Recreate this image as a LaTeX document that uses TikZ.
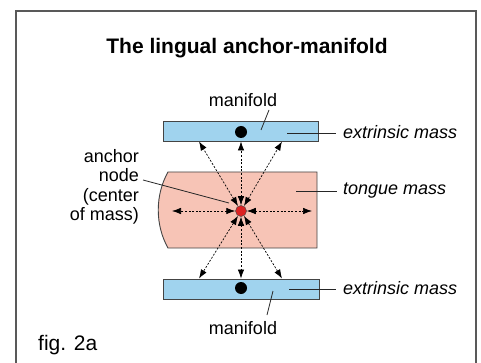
\documentclass[tikz,border=0pt]{standalone}
\usepackage{fontspec}
\setmainfont{Liberation Sans}
\usetikzlibrary{arrows.meta}
\definecolor{barblue}{HTML}{A0D3EE}
\definecolor{tongue}{HTML}{F7C4B6}
\definecolor{anchorred}{HTML}{DC2222}
\definecolor{edge}{HTML}{444444}
\tikzset{
  bar/.style={draw=edge, line width=0.9pt, fill=barblue, inner sep=0pt, minimum height=20pt},
  massdot/.style={circle, fill=black, inner sep=0pt, minimum size=12pt},
  reddot/.style={circle, fill=anchorred, draw=black!70, line width=0.5pt, inner sep=0pt, minimum size=11pt},
  force/.style={dash pattern=on 2pt off 1.6pt, line width=0.7pt, {Latex[length=9pt,width=6.5pt]}-{Latex[length=9pt,width=6.5pt]}},
  leader/.style={line width=0.8pt, draw=black!85},
  lbl/.style={inner sep=0pt, font=\fontsize{18}{19.5}\selectfont},
  ilbl/.style={inner sep=0pt, font=\fontsize{18}{19.5}\selectfont\itshape, anchor=west},
}
\begin{document}
\begin{tikzpicture}[x=1pt,y=-1pt]
\useasboundingbox (0,0) rectangle (481,363);
% frame
\draw[draw=black!65, line width=1.2pt] (16,380) -- (16,11) -- (476,11) -- (476,380);
% title
\node[inner sep=0pt, font=\fontsize{21}{24}\selectfont\bfseries] (title) at (247,48) {The lingual anchor-manifold};
% tongue mass
\draw[draw=edge, line width=0.9pt, fill=tongue] (168,172) -- (317,172) -- (317,248) -- (168,248) .. controls (155,225) and (155,195) .. (168,172) -- cycle;
% bars
\node[bar, minimum width=155pt] (topbar) at (240.5,131) {};
\node[bar, minimum width=156pt] (botbar) at (241,289) {};
\node[massdot] (mtop) at (241,132) {};
\node[massdot] (mbot) at (241,288) {};
\node[reddot] (anchor) at (241,211) {};
% arrow ends
\coordinate (t1) at (199,141.5);
\coordinate (t2) at (241,141.5);
\coordinate (t3) at (282,141.5);
\coordinate (b1) at (199,278.5);
\coordinate (b2) at (241,278.5);
\coordinate (b3) at (282,278.5);
\coordinate (hl) at (172,211);
\coordinate (hr) at (312,211);
\foreach \e in {t1,t2,t3,b1,b2,b3,hl,hr}{
  \draw[force] (anchor) -- (\e);
}
% labels
\node[lbl] (mantop) at (243,100) {manifold};
\node[lbl] (manbot) at (243,328) {manifold};
\node[ilbl] (exttop) at (343,132) {extrinsic mass};
\node[ilbl] (extbot) at (343,288) {extrinsic mass};
\node[ilbl] (tonguelbl) at (343,191) {tongue mass};
\node[lbl, align=right, anchor=east] (anchorlbl) at (139,187) {anchor\\node\\(center\\of mass)};
\node[inner sep=0pt, anchor=west, font=\fontsize{21}{24}\selectfont] (fig) at (38,345) {fig. 2a};
% leader lines
\coordinate (lmtstart) at (269,110);
\coordinate (lmt) at (261,130);
\coordinate (lmbstart) at (273,291);
\coordinate (lmb) at (267,315);
\coordinate (let) at (287,133);
\coordinate (letend) at (336,133);
\coordinate (leb) at (289,289);
\coordinate (lebend) at (336,289);
\coordinate (ltg) at (296,191);
\coordinate (ltgend) at (337,191);
\coordinate (lan) at (143,180);
\coordinate (lanend) at (229,203);
\draw[leader] (lmtstart) -- (lmt);
\draw[leader] (lmbstart) -- (lmb);
\draw[leader] (let) -- (letend);
\draw[leader] (leb) -- (lebend);
\draw[leader] (ltg) -- (ltgend);
\draw[leader] (lan) -- (lanend);
\end{tikzpicture}
\end{document}
